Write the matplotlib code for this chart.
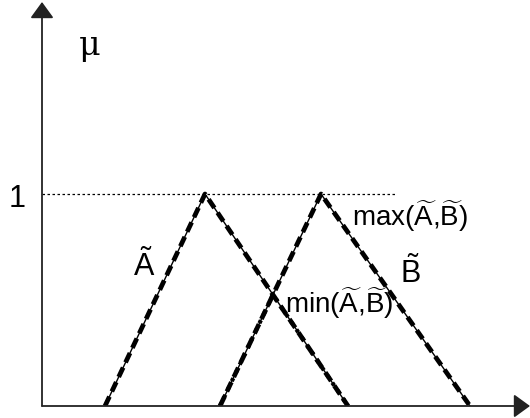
import numpy as np
import matplotlib.pyplot as plt

plt.rcParams['font.family'] = ['Liberation Sans', 'DejaVu Sans']
plt.rcParams['mathtext.fontset'] = 'custom'
plt.rcParams['mathtext.rm'] = 'Liberation Sans'
plt.rcParams['mathtext.it'] = 'Liberation Sans'

# triangular fuzzy numbers (left, peak, right), membership 0..1
a_tri = [63, 163, 306]
b_tri = [178, 279, 428]
mu_vals = [0, 1, 0]

fig = plt.figure(figsize=(5.3, 4.18), dpi=100)
ax = fig.add_axes([42 / 530, 12 / 418, 488 / 530, 404 / 418])
ax.set_xlim(0, 488)
ax.set_ylim(0, 404 / 212)
ax.axis('off')

# axes with arrows
arr = dict(arrowstyle='-|>,head_length=0.55,head_width=0.4', mutation_scale=18, lw=1.3,
           color='#222222', shrinkA=0, shrinkB=0)
ax.annotate('', xy=(488, 0), xytext=(0, 0), arrowprops=arr, annotation_clip=False)
ax.annotate('', xy=(0, 404 / 212), xytext=(0, 0), arrowprops=arr, annotation_clip=False)

# dotted line at mu = 1
ax.plot([0, 353], [1, 1], color='black', lw=0.9, ls=(0, (2, 2)))

# A and B, thick dashed
for tri in (a_tri, b_tri):
    ax.plot(tri, mu_vals, color='black', lw=3.4, ls=(0, (2.2, 1.2)), solid_capstyle='butt')

# max and min envelopes
x = np.linspace(0, 488, 4881)
mu_a = np.interp(x, a_tri, mu_vals)
mu_b = np.interp(x, b_tri, mu_vals)
mx = np.maximum(mu_a, mu_b)
mn = np.minimum(mu_a, mu_b)
keep = (x >= a_tri[0]) & (x <= b_tri[2])
ax.plot(x[keep], mx[keep], color='black', lw=1.0)
keep_mn = (x >= b_tri[0]) & (x <= a_tri[2])
ax.plot(x[keep_mn], mn[keep_mn], color='black', lw=1.0)
ax.plot(x[keep_mn], mn[keep_mn], color='black', lw=3.0, ls=(0, (0.8, 1.4)))

def px(xp, yp):
    return xp - 42, (406 - yp) / 212

ax.text(*px(79, 55), 'μ', fontsize=24, family=['DejaVu Serif'], ha='left', va='baseline')
ax.text(*px(9, 207), '1', fontsize=22, ha='left', va='baseline')
ax.text(*px(133, 276), r'$\tilde{\mathrm{A}}$', fontsize=22, ha='left', va='baseline')
ax.text(*px(400, 283), r'$\tilde{\mathrm{B}}$', fontsize=22, ha='left', va='baseline')
ax.text(*px(352, 226), r'max($\widetilde{\mathrm{A}}$,$\widetilde{\mathrm{B}}$)', fontsize=20,
        ha='left', va='baseline')
ax.text(*px(285, 313), r'min($\widetilde{\mathrm{A}}$,$\widetilde{\mathrm{B}}$)', fontsize=20,
        ha='left', va='baseline')

fig.savefig('out.png', dpi=100)
